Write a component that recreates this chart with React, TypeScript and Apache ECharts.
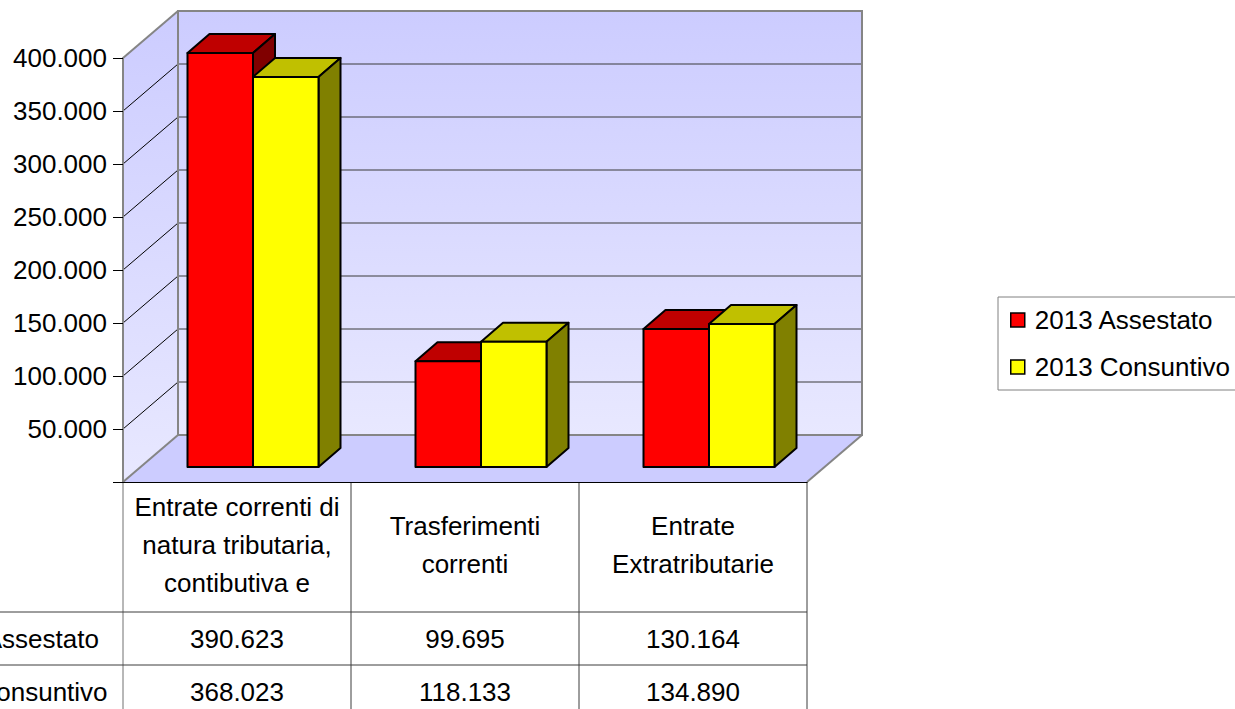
import React, { useEffect, useRef } from 'react';
import * as echarts from 'echarts';

// Revenue categories (table header labels, already wrapped)
const categories = [
  'Entrate correnti di\nnatura tributaria,\ncontibutiva e',
  'Trasferimenti\ncorrenti',
  'Entrate\nExtratributarie',
];
const seriesNames = ['2013 Assestato', '2013 Consuntivo'];
const assestato = [390623, 99695, 130164];
const consuntivo = [368023, 118133, 134890];
const yTicks = [0, 50000, 100000, 150000, 200000, 250000, 300000, 350000, 400000];

const FONT = "'Liberation Sans', Arial, sans-serif";
const FONT_SIZE = 26;

// pseudo-3D geometry
const DEPTH_X = 55; // floor / wall depth
const DEPTH_Y = -47;
const ROW_X = 16; // offset of the bar row from the front plane
const ROW_Y = -15;
const BAR_DX = 22; // depth of each box
const BAR_DY = -19;
const BAR_W = 65.5;

const fmt = (v: number) => String(Math.round(v)).replace(/\B(?=(\d{3})+(?!\d))/g, '.');

function wallGradient() {
  return new echarts.graphic.LinearGradient(0, 0, 0, 1, [
    { offset: 0, color: '#ccccff' },
    { offset: 1, color: '#e8e8ff' },
  ]);
}

function renderWalls(params: any, api: any) {
  const cs = params.coordSys;
  const L = cs.x;
  const R = cs.x + cs.width;
  const T = cs.y;
  const B = cs.y + cs.height;
  const gray = '#858585';
  const children: any[] = [
    {
      type: 'polygon',
      shape: { points: [[L, T], [L + DEPTH_X, T + DEPTH_Y], [L + DEPTH_X, B + DEPTH_Y], [L, B]] },
      style: { fill: wallGradient() },
    },
    {
      type: 'rect',
      shape: { x: L + DEPTH_X, y: T + DEPTH_Y, width: R - L, height: B - T },
      style: { fill: wallGradient() },
    },
    {
      type: 'polygon',
      shape: { points: [[L, B], [L + DEPTH_X, B + DEPTH_Y], [R + DEPTH_X, B + DEPTH_Y], [R, B]] },
      style: { fill: '#ccccff' },
    },
  ];
  yTicks.forEach((t, k) => {
    if (k === 0 || k === yTicks.length - 1) return;
    const y = api.coord([0, t])[1];
    children.push({
      type: 'line',
      shape: { x1: L + DEPTH_X, y1: y + DEPTH_Y, x2: R + DEPTH_X, y2: y + DEPTH_Y },
      style: { stroke: '#3a3a3a', lineWidth: 1 },
    });
    children.push({
      type: 'line',
      shape: { x1: L, y1: y, x2: L + DEPTH_X, y2: y + DEPTH_Y },
      style: { stroke: '#000', lineWidth: 1 },
    });
  });
  // outlines of the box
  children.push(
    {
      type: 'rect',
      shape: { x: L + DEPTH_X, y: T + DEPTH_Y, width: R - L, height: B - T },
      style: { fill: 'none', stroke: gray, lineWidth: 2 },
    },
    {
      type: 'line',
      shape: { x1: L, y1: T, x2: L + DEPTH_X, y2: T + DEPTH_Y },
      style: { stroke: gray, lineWidth: 2 },
    },
    {
      type: 'line',
      shape: { x1: L, y1: B, x2: L + DEPTH_X, y2: B + DEPTH_Y },
      style: { stroke: gray, lineWidth: 2 },
    },
    {
      type: 'line',
      shape: { x1: R, y1: B, x2: R + DEPTH_X, y2: B + DEPTH_Y },
      style: { stroke: gray, lineWidth: 2 },
    }
  );
  return { type: 'group', children };
}

function renderTable(params: any, api: any) {
  const cs = params.coordSys;
  const L = cs.x;
  const R = cs.x + cs.width;
  const B = cs.y + cs.height;
  const band = cs.width / categories.length;
  const headerH = 130;
  const rowH = 53;
  const bottom = B + headerH + rowH * 3;
  const line = '#3c3c3c';
  const children: any[] = [];
  const rows = [assestato, consuntivo];
  for (let k = 0; k <= categories.length; k++) {
    const x = L + band * k;
    children.push({
      type: 'line',
      shape: { x1: x, y1: B, x2: x, y2: bottom },
      style: { stroke: k === 0 ? '#707070' : line, lineWidth: 1 },
    });
  }
  rows.forEach((_, r) => {
    const y = B + headerH + rowH * r;
    children.push({
      type: 'line',
      shape: { x1: -10, y1: y, x2: R, y2: y },
      style: { stroke: line, lineWidth: 1 },
    });
  });
  const textStyle = (text: string) => ({
    text,
    fill: '#000',
    fontFamily: FONT,
    fontSize: FONT_SIZE,
    align: 'center',
    verticalAlign: 'middle',
    lineHeight: 38,
  });
  categories.forEach((c, i) => {
    const cx = api.coord([i, 0])[0];
    children.push({ type: 'text', x: cx, y: B + 63, style: textStyle(c) });
    rows.forEach((vals, r) => {
      children.push({
        type: 'text',
        x: cx,
        y: B + headerH + rowH * r + rowH / 2,
        style: textStyle(fmt(vals[i])),
      });
    });
  });
  // row headers: the label column runs past the left edge of the page
  seriesNames.forEach((n, r) => {
    children.push({
      type: 'text',
      x: 10,
      y: B + headerH + rowH * r + rowH / 2,
      style: textStyle(n),
    });
  });
  return { type: 'group', children };
}

function barRenderer(slot: number, front: string, top: string, side: string) {
  return (params: any, api: any) => {
    const i = api.value(0);
    const v = api.value(1);
    const [cx, yv] = api.coord([i, v]);
    const y0 = api.coord([i, 0])[1];
    const x0 = cx + ROW_X + (slot === 0 ? -BAR_W : 0);
    const x1 = x0 + BAR_W;
    const yT = yv + ROW_Y;
    const yB = y0 + ROW_Y;
    const edge = { stroke: '#000', lineWidth: 2, lineJoin: 'round' };
    return {
      type: 'group',
      children: [
        {
          type: 'polygon',
          shape: { points: [[x0, yT], [x0 + BAR_DX, yT + BAR_DY], [x1 + BAR_DX, yT + BAR_DY], [x1, yT]] },
          style: { fill: top, ...edge },
        },
        {
          type: 'polygon',
          shape: { points: [[x1, yT], [x1 + BAR_DX, yT + BAR_DY], [x1 + BAR_DX, yB + BAR_DY], [x1, yB]] },
          style: { fill: side, ...edge },
        },
        {
          type: 'rect',
          shape: { x: x0, y: yT, width: BAR_W, height: yB - yT },
          style: { fill: front, ...edge },
        },
      ],
    };
  };
}

export default function App() {
  const ref = useRef<HTMLDivElement>(null);
  useEffect(() => {
    if (!ref.current) return;
    const chart = echarts.init(ref.current, undefined, { renderer: 'svg' });
    chart.setOption({
      animation: false,
      backgroundColor: '#ffffff',
      textStyle: { fontFamily: FONT },
      grid: { left: 123, top: 58, width: 684, height: 424, containLabel: false },
      legend: {
        data: seriesNames,
        orient: 'vertical',
        left: 998,
        top: 297,
        padding: [10, 30, 10, 12],
        itemWidth: 14,
        itemHeight: 14,
        itemGap: 21,
        icon: 'rect',
        borderColor: '#808080',
        borderWidth: 1,
        itemStyle: { borderColor: '#000', borderWidth: 1.5 },
        textStyle: { fontFamily: FONT, fontSize: FONT_SIZE, color: '#000', lineHeight: 26, padding: [0, 0, 0, 5] },
      },
      xAxis: {
        type: 'category',
        data: categories,
        z: 10,
        axisLine: { show: true, lineStyle: { color: '#000', width: 1 } },
        axisTick: { show: false },
        axisLabel: { show: false },
        splitLine: { show: false },
      },
      yAxis: {
        type: 'value',
        min: 0,
        max: 400000,
        interval: 50000,
        z: 10,
        axisLine: { show: true, lineStyle: { color: '#858585', width: 2 } },
        axisTick: { show: true, length: 10, lineStyle: { color: '#000', width: 1 } },
        axisLabel: {
          margin: 16,
          fontFamily: FONT,
          fontSize: FONT_SIZE,
          color: '#000',
          formatter: (v: number) => (v === 0 ? '' : fmt(v)),
        },
        splitLine: { show: false },
      },
      series: [
        {
          type: 'custom',
          name: 'walls',
          silent: true,
          z: 1,
          data: [[0, 0]],
          renderItem: renderWalls,
        },
        {
          type: 'custom',
          name: 'table',
          silent: true,
          z: 1,
          data: [[0, 0]],
          renderItem: renderTable,
        },
        {
          type: 'custom',
          name: seriesNames[0],
          z: 3,
          itemStyle: { color: '#ff0000' },
          encode: { x: 0, y: 1 },
          data: assestato.map((v, i) => [i, v]),
          renderItem: barRenderer(0, '#ff0000', '#bf0000', '#800000'),
        },
        {
          type: 'custom',
          name: seriesNames[1],
          z: 4,
          itemStyle: { color: '#ffff00' },
          encode: { x: 0, y: 1 },
          data: consuntivo.map((v, i) => [i, v]),
          renderItem: barRenderer(1, '#ffff00', '#c0c000', '#808000'),
        },
      ],
    });
    return () => chart.dispose();
  }, []);
  return (
    <div
      ref={ref}
      style={{ position: 'fixed', left: 0, top: 0, width: 1235, height: 709, background: '#fff' }}
    />
  );
}
